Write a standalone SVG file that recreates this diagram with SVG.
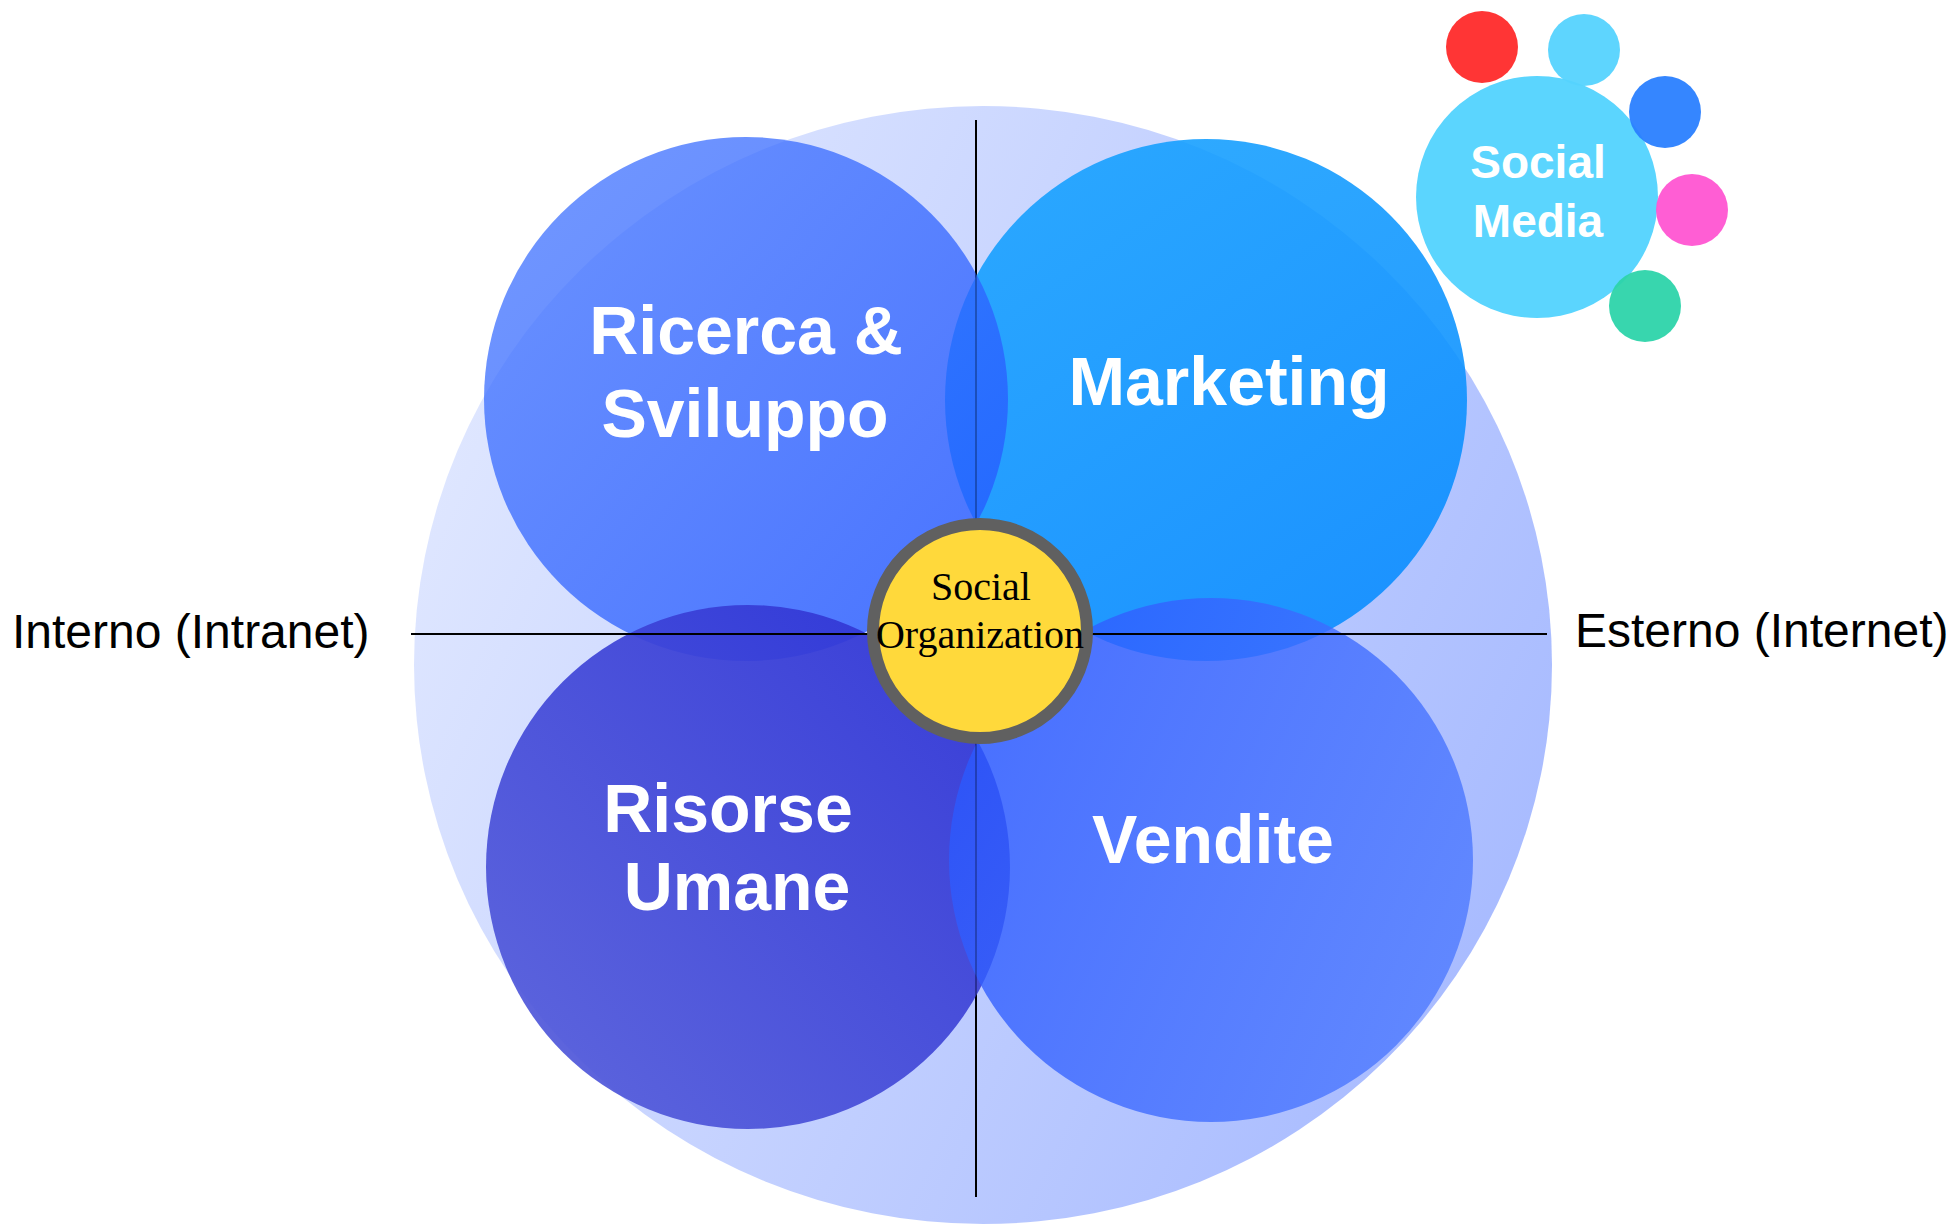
<svg xmlns="http://www.w3.org/2000/svg" width="1949" height="1226" viewBox="0 0 1949 1226">
<style>
.lbl{font-family:"Liberation Sans",Arial,sans-serif;font-weight:bold;fill:#ffffff;text-anchor:middle}
.big{font-size:68px}
.axis{font-family:"Liberation Sans",Arial,sans-serif;font-size:48px;fill:#000000}
.org{font-family:"Liberation Serif","Times New Roman",serif;font-size:40px;fill:#000000;text-anchor:middle}
.ln{stroke:#000000;stroke-width:2;fill:none}
</style>
<defs>
<linearGradient id="gBg" x1="0" y1="0.2" x2="1" y2="0.65">
<stop offset="0" stop-color="#e2e9ff"/>
<stop offset="1" stop-color="#a8bbff"/>
</linearGradient>
<linearGradient id="gRic" x1="0.1" y1="0.1" x2="0.9" y2="0.9">
<stop offset="0" stop-color="#4274ff"/>
<stop offset="1" stop-color="#2458ff"/>
</linearGradient>
<linearGradient id="gMkt" x1="0.2" y1="0" x2="0.8" y2="1">
<stop offset="0" stop-color="#18a2ff"/>
<stop offset="1" stop-color="#0a8cff"/>
</linearGradient>
<linearGradient id="gRis" x1="0.9" y1="0.1" x2="0.1" y2="0.9">
<stop offset="0" stop-color="#3035d5"/>
<stop offset="1" stop-color="#535bda"/>
</linearGradient>
<linearGradient id="gVen" x1="0" y1="0.3" x2="1" y2="0.7">
<stop offset="0" stop-color="#2a58ff"/>
<stop offset="1" stop-color="#4f7bff"/>
</linearGradient>
</defs>

<g id="background">
<ellipse cx="983" cy="665" rx="569" ry="559" fill="url(#gBg)"/>
</g>

<g id="vertical-axis-under">
<line class="ln" x1="976" y1="120" x2="976" y2="1197"/>
</g>

<g id="marketing">
<circle cx="1206" cy="400" r="261" fill="url(#gMkt)" opacity="0.9"/>
</g>
<g id="ricerca">
<circle cx="746" cy="399" r="262" fill="url(#gRic)" opacity="0.76"/>
</g>
<g id="risorse">
<circle cx="748" cy="867" r="262" fill="url(#gRis)" opacity="0.93"/>
</g>
<g id="vendite">
<circle cx="1211" cy="860" r="262" fill="url(#gVen)" opacity="0.8"/>
</g>

<g id="connectors">
<line class="ln" x1="976" y1="120" x2="976" y2="1197" opacity="0.25"/>
<line class="ln" x1="411" y1="634" x2="1547" y2="634"/>
</g>

<g id="labels">
<text class="lbl big" x="746" y="354">Ricerca &amp;</text>
<text class="lbl big" x="745" y="437">Sviluppo</text>
<text class="lbl big" x="1229" y="405">Marketing</text>
<text class="lbl big" x="728" y="832">Risorse</text>
<text class="lbl big" x="737" y="910">Umane</text>
<text class="lbl big" x="1213" y="863">Vendite</text>
</g>

<g id="social-organization">
<circle cx="980" cy="631" r="107" fill="#ffd93b" stroke="#606060" stroke-width="12"/>
<text class="org" x="981" y="600">Social</text>
<text class="org" x="980" y="648">Organization</text>
</g>

<g id="interno">
<text class="axis" x="12" y="648">Interno (Intranet)</text>
</g>
<g id="esterno">
<text class="axis" x="1575" y="647">Esterno (Internet)</text>
</g>

<g id="social-media">
<circle cx="1537" cy="197" r="121" fill="#5bd5fe"/>
<text class="lbl" style="font-size:46px" x="1538" y="178">Social</text>
<text class="lbl" style="font-size:46px" x="1538" y="237">Media</text>
<circle cx="1482" cy="47" r="36" fill="#ff2a2a" opacity="0.95"/>
<circle cx="1584" cy="50" r="36" fill="#55d3fe" opacity="0.95"/>
<circle cx="1665" cy="112" r="36" fill="#2a80ff" opacity="0.95"/>
<circle cx="1692" cy="210" r="36" fill="#ff55d2" opacity="0.95"/>
<circle cx="1645" cy="306" r="36" fill="#2dd4aa" opacity="0.95"/>
</g>
</svg>
